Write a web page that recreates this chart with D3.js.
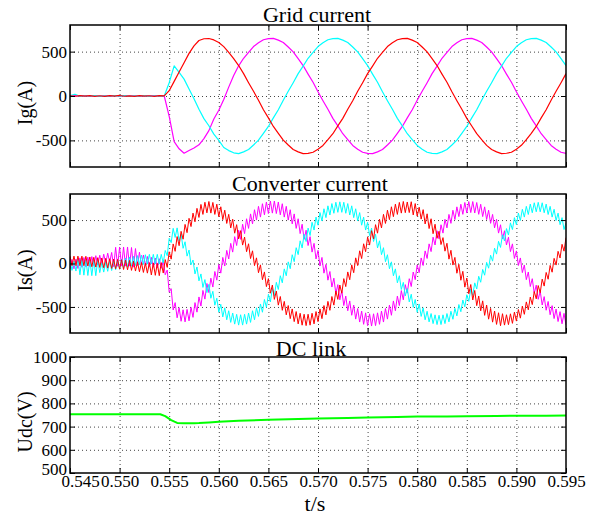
<!DOCTYPE html>
<html>
<head>
<meta charset="utf-8">
<script src="https://cdn.jsdelivr.net/npm/d3@7"></script>
<style>
  body { margin: 0; background: #fff; }
  svg { display: block; }
  svg text { font-family: 'Liberation Serif', 'Times New Roman', Times, 'DejaVu Serif', serif !important; }
</style>
</head>
<body>
<script>
// sample timing: grid current every 0.5 ms, converter current every 0.2 ms
const tStart = 0.545
const gridStep = 0.0005
const convStep = 0.0002

const xTickLabels = [0.545, 0.550, 0.555, 0.560, 0.565, 0.570, 0.575, 0.580, 0.585, 0.590, 0.595]
const currentTicks = [-500, 0, 500]
const dcTicks = [500, 600, 700, 800, 900, 1000]

// Grid current (A), 101 samples
const gridRed = [
  2, -3, 4, -2, 5, -4, 3, -5, 4, -2,
  6, -3, 2, -4, 5, -2, 3, -5, 4, 2,
  60, 165, 270, 375, 480, 565, 625, 645, 648, 632,
  603, 556, 492, 420, 343, 252, 150, 53, -48, -155,
  -247, -343, -420, -497, -552, -603, -630, -650, -646, -634,
  -599, -557, -491, -425, -337, -252, -149, -54, 53, 150,
  252, 337, 425, 491, 557, 599, 634, 646, 650, 630,
  603, 552, 497, 420, 343, 247, 155, 48, -53, -150,
  -252, -338, -424, -492, -556, -603, -630, -650, -645, -634,
  -599, -556, -492, -420, -343, -247, -155, -48, 53, 150,
  252
]
const gridMagenta = [
  -3, 4, -2, 5, -6, 3, -4, 2, -5, 6,
  -3, 4, -2, 3, -6, 4, -2, 5, -3, 0,
  -230, -515, -595, -645, -615, -585, -550, -480, -390, -260,
  -160, -40, 100, 230, 340, 425, 491, 557, 599, 634,
  646, 650, 630, 603, 552, 497, 420, 343, 247, 155,
  48, -53, -150, -252, -337, -425, -491, -557, -599, -634,
  -646, -650, -630, -603, -552, -497, -420, -343, -247, -155,
  -48, 53, 150, 252, 337, 425, 491, 557, 599, 634,
  646, 650, 630, 603, 552, 497, 420, 343, 247, 155,
  48, -53, -150, -252, -337, -425, -491, -557, -599, -634,
  -646
]
const gridCyan = [
  5, 20, -4, 3, -2, 4, -5, 2, -3, 5,
  -2, 4, -4, 2, -3, 5, -4, 3, -2, 0,
  150, 340, 265, 190, 80, -30, -150, -255, -335, -430,
  -500, -580, -615, -640, -650, -630, -603, -552, -497, -420,
  -343, -247, -155, -48, 53, 150, 252, 337, 425, 491,
  557, 599, 634, 646, 650, 630, 603, 552, 497, 420,
  343, 247, 155, 48, -53, -150, -252, -337, -425, -491,
  -557, -599, -634, -646, -650, -630, -603, -552, -497, -420,
  -343, -247, -155, -48, 53, 150, 252, 337, 425, 491,
  557, 599, 634, 646, 650, 630, 603, 552, 497, 420,
  343
]

// Converter current (A), 251 samples with switching ripple
const convRed = [
  85, -25, 85, -25, 85, -25, 85, -25, 83, -29,
  75, -37, 71, -41, 67, -45, 63, -49, 59, -53,
  55, -57, 51, -61, 47, -65, 43, -69, 39, -73,
  35, -79, 27, -87, 19, -95, 11, -103, 3, -111,
  10, -132, 6, -136, 2, -140, 10, -110, 45, -45,
  135, 50, 225, 140, 310, 205, 370, 280, 450, 355,
  520, 425, 580, 480, 635, 530, 680, 565, 705, 583,
  714, 580, 703, 565, 683, 539, 653, 505, 614, 461,
  566, 409, 510, 349, 447, 283, 378, 212, 304, 136,
  227, 57, 146, -24, 65, -106, -16, -187, -97, -266,
  -174, -342, -248, -413, -317, -479, -380, -539, -436, -591,
  -484, -635, -523, -669, -553, -695, -573, -710, -584, -715,
  -584, -710, -573, -695, -553, -669, -523, -635, -484, -591,
  -436, -539, -380, -479, -317, -413, -248, -342, -174, -266,
  -97, -187, -16, -106, 65, -24, 146, 57, 227, 136,
  304, 212, 378, 283, 447, 349, 510, 409, 566, 461,
  614, 505, 653, 539, 683, 565, 703, 580, 714, 585,
  708, 586, 711, 559, 690, 545, 648, 511, 620, 455,
  572, 402, 515, 343, 452, 290, 371, 218, 298, 142,
  233, 50, 152, -18, 70, -112, -10, -193, -90, -272,
  -168, -348, -242, -420, -310, -485, -374, -545, -430, -597,
  -478, -641, -517, -675, -547, -701, -567, -716, -578, -709,
  -590, -704, -579, -689, -560, -663, -530, -629, -490, -585,
  -442, -533, -386, -473, -323, -407, -254, -336, -180, -260,
  -103, -181, -22, -100, 59, -18, 140, 63, 221, 142,
  298
]
const convMagenta = [
  -65, 47, -61, 51, -57, 65, -43, 69, -39, 73,
  -35, 80, -25, 90, -17, 95, -9, 107, 3, 119,
  15, 127, -36, 186, -32, 190, -30, 190, -30, 190,
  -30, 184, -42, 172, -24, 130, -16, 98, -23, 81,
  -35, 71, -43, 63, -51, 55, -55, 35, -130, -75,
  -330, -290, -535, -450, -625, -508, -665, -533, -672, -528,
  -660, -505, -620, -450, -560, -385, -490, -310, -410, -230,
  -335, -169, -271, -92, -192, -11, -111, 70, -29, 151,
  52, 232, 131, 309, 207, 383, 278, 452, 344, 515,
  404, 571, 456, 619, 500, 658, 534, 688, 560, 708,
  575, 719, 580, 719, 575, 708, 560, 688, 534, 658,
  500, 619, 456, 571, 404, 515, 344, 452, 278, 383,
  207, 309, 131, 232, 52, 151, -29, 70, -111, -11,
  -192, -92, -271, -169, -347, -243, -418, -312, -484, -375,
  -544, -431, -596, -479, -640, -518, -674, -548, -700, -568,
  -715, -579, -720, -579, -715, -568, -700, -548, -674, -518,
  -640, -479, -596, -431, -544, -375, -484, -312, -418, -243,
  -341, -175, -265, -98, -186, -17, -105, 64, -23, 145,
  58, 226, 137, 303, 213, 377, 284, 446, 350, 509,
  410, 565, 462, 613, 506, 652, 540, 682, 566, 702,
  581, 713, 586, 713, 581, 702, 566, 682, 540, 652,
  506, 613, 462, 565, 410, 509, 350, 446, 284, 377,
  213, 303, 137, 226, 58, 145, -23, 64, -105, -17,
  -186, -98, -265, -175, -341, -249, -412, -318, -478, -381,
  -538, -437, -590, -485, -634, -524, -668, -554, -694, -574,
  -709
]
const convCyan = [
  35, -79, 27, -87, 54, -130, 48, -134, 44, -138,
  40, -140, 40, -140, 40, -105, 7, -99, 15, -90,
  25, -81, 33, -73, 41, -65, 51, -53, 63, -41,
  75, -31, 83, -23, 91, -15, 97, -11, 101, -7,
  105, -5, 105, -5, 105, -5, 105, 5, 150, 90,
  290, 240, 405, 300, 410, 260, 340, 175, 250, 85,
  155, -15, 40, -120, -40, -200, -120, -275, -185, -335,
  -240, -400, -320, -480, -400, -560, -470, -615, -510, -648,
  -544, -678, -570, -698, -585, -709, -590, -709, -585, -698,
  -570, -678, -544, -648, -510, -609, -466, -561, -414, -505,
  -354, -442, -288, -373, -217, -299, -141, -222, -62, -141,
  19, -60, 101, 21, 182, 102, 261, 179, 337, 253,
  408, 322, 474, 385, 534, 441, 586, 489, 630, 528,
  664, 558, 690, 578, 705, 589, 710, 589, 705, 578,
  690, 558, 664, 528, 630, 489, 586, 441, 534, 385,
  474, 322, 408, 253, 337, 179, 261, 102, 182, 21,
  101, -60, 19, -141, -62, -222, -141, -299, -217, -373,
  -288, -442, -354, -505, -414, -561, -466, -609, -510, -648,
  -550, -672, -576, -692, -591, -703, -596, -703, -591, -692,
  -576, -672, -550, -642, -516, -603, -472, -555, -420, -499,
  -360, -436, -294, -367, -223, -293, -147, -216, -68, -135,
  13, -54, 95, 27, 176, 108, 255, 185, 331, 259,
  402, 328, 468, 391, 528, 447, 580, 495, 624, 534,
  658, 564, 684, 584, 699, 595, 704, 595, 699, 584,
  684, 564, 658, 534, 624, 495, 580, 447, 528, 391,
  468
]

// DC link voltage (V)
const dcTime = [0.545, 0.550, 0.5541, 0.5546, 0.5552, 0.5558, 0.5565, 0.5575, 0.558, 0.559,
  0.560, 0.562, 0.565, 0.568, 0.570, 0.573, 0.575, 0.578, 0.580, 0.583,
  0.585, 0.588, 0.590, 0.593, 0.595]
const dcVolt = [753, 753, 753, 745, 728, 716, 714, 714, 715, 718,
  721, 725, 729, 733, 735, 737, 739, 741, 743, 744,
  745, 746, 747, 747, 748]

const W = 589, H = 515
const left = 70, right = 566

const svg = d3.select('body').append('svg')
  .attr('width', W)
  .attr('height', H)

const x = d3.scaleLinear().domain([0.545, 0.595]).range([left, right])

const asSeries = (values, step) => values.map((v, i) => [tStart + i * step, v])

const panels = [
  {
    id: 'grid', top: 25, bottom: 167, domain: [-800, 800],
    ticks: currentTicks, gridY: currentTicks,
    title: 'Grid current', titleX: 317, titleY: 22, ylabel: 'Ig(A)',
    series: [
      { data: asSeries(gridMagenta, gridStep), color: '#ff00ff', width: 1.2 },
      { data: asSeries(gridCyan, gridStep), color: '#00ffff', width: 1.2 },
      { data: asSeries(gridRed, gridStep), color: '#ff0000', width: 1.2 }
    ]
  },
  {
    id: 'conv', top: 194, bottom: 333, domain: [-800, 800],
    ticks: currentTicks, gridY: currentTicks,
    title: 'Converter current', titleX: 310, titleY: 191, ylabel: 'Is(A)',
    series: [
      { data: asSeries(convMagenta, convStep), color: '#ff00ff', width: 1 },
      { data: asSeries(convCyan, convStep), color: '#00ffff', width: 1 },
      { data: asSeries(convRed, convStep), color: '#ff0000', width: 1 }
    ]
  },
  {
    id: 'dc', top: 357, bottom: 473, domain: [500, 1000],
    ticks: dcTicks, gridY: [600, 700, 800, 900],
    title: 'DC link', titleX: 311, titleY: 356, ylabel: 'Udc(V)', xLabels: true,
    series: [
      { data: dcTime.map((t, i) => [t, dcVolt[i]]), color: '#00ff00', width: 2 }
    ]
  }
]

const styleAxis = (sel) => {
  sel.select('.domain').remove()
  sel.attr('font-family', null).attr('font-size', 17)
  sel.selectAll('line').attr('stroke', '#000')
  sel.selectAll('text').attr('fill', '#000')
}

const drawPanel = (p) => {
  const h = p.bottom - p.top
  const y = d3.scaleLinear().domain(p.domain).range([p.bottom, p.top])
  const g = svg.append('g')

  // dotted grid
  const gx = g.append('g')
    .attr('transform', `translate(0,${p.bottom})`)
    .call(d3.axisBottom(x).tickValues(xTickLabels.slice(1, -1)).tickSize(-h).tickFormat(''))
  const gy = g.append('g')
    .attr('transform', `translate(${left},0)`)
    .call(d3.axisLeft(y).tickValues(p.gridY).tickSize(-(right - left)).tickFormat(''))
  ;[gx, gy].forEach(a => {
    a.select('.domain').remove()
    a.selectAll('line').attr('stroke', '#444').attr('stroke-dasharray', '1,3')
  })

  g.append('clipPath').attr('id', 'clip-' + p.id)
    .append('rect')
    .attr('x', left).attr('y', p.top)
    .attr('width', right - left).attr('height', h)

  const line = d3.line().x(d => x(d[0])).y(d => y(d[1]))
  p.series.forEach(s => {
    g.append('path')
      .datum(s.data)
      .attr('clip-path', `url(#clip-${p.id})`)
      .attr('fill', 'none')
      .attr('stroke', s.color)
      .attr('stroke-width', s.width)
      .attr('stroke-linejoin', 'round')
      .attr('d', line)
  })

  // inward ticks on all four sides
  const leftAxis = g.append('g').attr('transform', `translate(${left},0)`)
    .call(d3.axisLeft(y).tickValues(p.ticks).tickSize(-5).tickPadding(3).tickFormat(d => String(d)))
    .call(styleAxis)
  g.append('g').attr('transform', `translate(${right},0)`)
    .call(d3.axisRight(y).tickValues(p.ticks).tickSize(-5).tickFormat(''))
    .call(styleAxis)
  g.append('g').attr('transform', `translate(0,${p.top})`)
    .call(d3.axisTop(x).tickValues(xTickLabels).tickSize(-5).tickFormat(''))
    .call(styleAxis)
  const bottomAxis = g.append('g').attr('transform', `translate(0,${p.bottom})`)
    .call(d3.axisBottom(x).tickValues(xTickLabels).tickSize(-5).tickPadding(2)
      .tickFormat(p.xLabels ? d3.format('.3f') : ''))
    .call(styleAxis)
  if (p.xLabels) {
    // the first x label sits a bit right so it clears the lowest y label
    bottomAxis.selectAll('text').filter(d => d === xTickLabels[0]).attr('x', 10)
    leftAxis.selectAll('text').filter(d => d === p.domain[0]).attr('y', -4)
  }

  // frame
  g.append('rect')
    .attr('x', left).attr('y', p.top)
    .attr('width', right - left).attr('height', h)
    .attr('fill', 'none')
    .attr('stroke', '#000')
    .attr('stroke-width', 1.5)

  g.append('text')
    .attr('x', p.titleX).attr('y', p.titleY)
    .attr('text-anchor', 'middle')
    .attr('font-size', 22)
    .text(p.title)

  g.append('text')
    .attr('transform', `translate(32,${(p.top + p.bottom) / 2 + 7}) rotate(-90)`)
    .attr('text-anchor', 'middle')
    .attr('font-size', 20)
    .text(p.ylabel)
}

panels.forEach(drawPanel)

svg.append('text')
  .attr('x', 315).attr('y', 511)
  .attr('text-anchor', 'middle')
  .attr('font-size', 22)
  .text('t/s')
</script>
</body>
</html>
